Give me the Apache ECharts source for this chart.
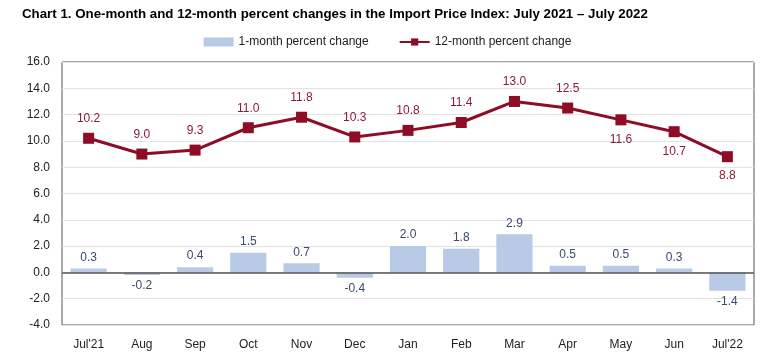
<!DOCTYPE html>
<html><head><meta charset="utf-8">
<script src="https://cdn.jsdelivr.net/npm/echarts@6/dist/echarts.min.js"></script>
<style>html,body{margin:0;padding:0;background:#fff}#c{width:775px;height:363px}</style>
</head><body><div id="c"></div>
<script>
const categories = ["Jul'21","Aug","Sep","Oct","Nov","Dec","Jan","Feb","Mar","Apr","May","Jun","Jul'22"];
const oneMonth = [0.3,-0.2,0.4,1.5,0.7,-0.4,2.0,1.8,2.9,0.5,0.5,0.3,-1.4];
const twelveMonth = [10.2,9.0,9.3,11.0,11.8,10.3,10.8,11.4,13.0,12.5,11.6,10.7,8.8];
const title = "Chart 1. One-month and 12-month percent changes in the Import Price Index: July 2021 \u2013 July 2022";

const chart = echarts.init(document.getElementById('c'));
const font = 'Liberation Sans, Arial, sans-serif';
chart.setOption({
  animation:false,
  title:{text:title,left:17,top:3,textStyle:{fontFamily:font,fontSize:13.3,fontWeight:'bold',color:'#000'}},
  legend:{top:31,left:'center',itemGap:30,itemWidth:30,itemHeight:9,
    textStyle:{fontFamily:font,fontSize:12,color:'#222'},
    data:[{name:'1-month percent change',icon:'rect'},{name:'12-month percent change'}]},
  grid:{left:62,right:21,top:62,bottom:38,show:true,borderColor:'#555',borderWidth:1},
  xAxis:{type:'category',data:categories,
    axisLine:{show:false},axisTick:{show:false},
    axisLabel:{fontFamily:font,fontSize:12,color:'#222',margin:14}},
  yAxis:{type:'value',min:-4,max:16,interval:2,
    axisLabel:{fontFamily:font,fontSize:12,color:'#222',formatter:v=>v.toFixed(1),margin:12},
    splitLine:{lineStyle:{color:'#e3e3e3'}},axisLine:{show:false}},
  series:[
    {name:'1-month percent change',type:'bar',barWidth:'68%',
     data:oneMonth.map(v=>({value:v,label:{position:v<0?'bottom':'top'}})),
     itemStyle:{color:'#b8cae6'},
     label:{show:true,position:'top',distance:5,fontFamily:font,fontSize:12,color:'#3a4a6a',
       formatter:p=>p.value.toFixed(1)},
     markLine:{silent:true,symbol:'none',label:{show:false},lineStyle:{color:'#555',type:'solid',width:1.5},data:[{yAxis:0}]}},
    {name:'12-month percent change',type:'line',
     data:twelveMonth.map((v,i)=>({value:v,label:{position:(i>=10)?'bottom':'top',distance:8}})),
     symbol:'rect',symbolSize:11,
     lineStyle:{color:'#8e0c26',width:3},itemStyle:{color:'#8e0c26'},
     label:{show:true,fontFamily:font,fontSize:12,color:'#8b1c38',
       formatter:p=>p.value.toFixed(1)}}
  ]
});
</script></body></html>
